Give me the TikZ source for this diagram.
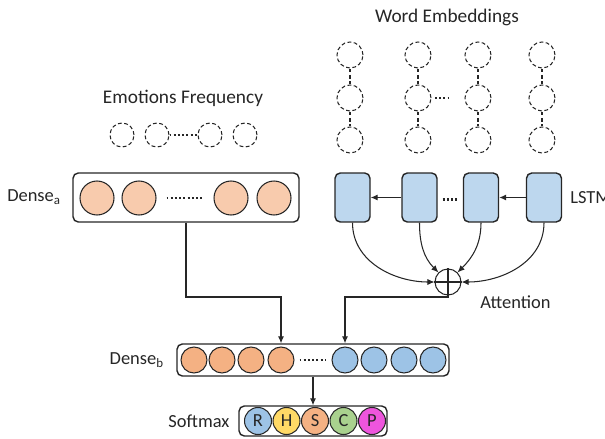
\documentclass[tikz,border=0pt]{standalone}
\usepackage{fontspec}
\setmainfont{Carlito}
\usetikzlibrary{arrows.meta,positioning}
\definecolor{peachlight}{HTML}{F8CBAD}
\definecolor{peach}{HTML}{F4B183}
\definecolor{skyblue}{HTML}{9DC3E6}
\definecolor{lstmblue}{HTML}{BDD7EE}
\definecolor{softyellow}{HTML}{FFD966}
\definecolor{softgreen}{HTML}{A9D18E}
\definecolor{softpink}{HTML}{EE55DD}
\definecolor{inkgray}{HTML}{262626}

\begin{document}
\begin{tikzpicture}[x=0.02cm,y=-0.02cm,line width=0.6pt,
  font=\fontsize{10.5}{12}\selectfont,color=inkgray,
  ghost/.style={circle,draw,dash pattern={on 2.2pt off 1.4pt},minimum size=0.52cm,inner sep=0pt},
  ghostlink/.style={dash pattern={on 2.2pt off 1.4pt}},
  neuron/.style={circle,draw,minimum size=#1,inner sep=0pt},
  layerbox/.style={draw,rounded corners=3pt,line width=0.8pt,inner sep=0pt},
  cell/.style={draw,fill=lstmblue,rounded corners=3pt,line width=0.8pt,minimum width=0.7cm,minimum height=0.98cm,inner sep=0pt},
  dotsline/.style={line width=1.2pt,dash pattern={on 1.1pt off 1.3pt}},
  arr/.style={-{Latex[length=4pt,width=3.5pt]}},
  title/.style={font=\fontsize{11}{13}\selectfont}]
  \useasboundingbox (0,0) rectangle (605,439);

  % word embeddings
  \node[title] (wtitle) at (447,17) {Word Embeddings};
  \node[ghost] (w11) at (350,55) {};
  \node[ghost] (w12) at (350,98) {};
  \node[ghost] (w13) at (350,140) {};
  \node[ghost] (w21) at (418,55) {};
  \node[ghost] (w22) at (418,98) {};
  \node[ghost] (w23) at (418,140) {};
  \node[ghost] (w31) at (478,55) {};
  \node[ghost] (w32) at (478,98) {};
  \node[ghost] (w33) at (478,140) {};
  \node[ghost] (w41) at (542,55) {};
  \node[ghost] (w42) at (542,98) {};
  \node[ghost] (w43) at (542,140) {};
  \draw[ghostlink] (w11) -- (w12) -- (w13);
  \draw[ghostlink] (w21) -- (w22) -- (w23);
  \draw[ghostlink] (w31) -- (w32) -- (w33);
  \draw[ghostlink] (w41) -- (w42) -- (w43);
  \draw[dotsline,shorten <=2pt,shorten >=9pt] (w22) -- (w32);

  % emotions frequency
  \node[title] (etitle) at (183,98) {Emotions Frequency};
  \node[ghost,minimum size=0.48cm] (e1) at (122,135) {};
  \node[ghost,minimum size=0.48cm] (e2) at (157,135) {};
  \node[ghost,minimum size=0.48cm] (e3) at (210,135) {};
  \node[ghost,minimum size=0.48cm] (e4) at (245,135) {};
  \draw[dotsline] (e2) -- (e3);

  % dense a
  \node[layerbox,minimum width=4.52cm,minimum height=0.98cm] (densea) at (186,197.5) {};
  \node[left=0.1cm of densea] (dalabel) {Dense\textsubscript{a}};
  \node[neuron=0.68cm,fill=peachlight] (a1) at (97,198) {};
  \node[neuron=0.68cm,fill=peachlight] (a2) at (139,198) {};
  \node[neuron=0.68cm,fill=peachlight] (a3) at (231,198) {};
  \node[neuron=0.68cm,fill=peachlight] (a4) at (274,198) {};
  \draw[dotsline,shorten <=0.2cm,shorten >=0.2cm] (a2) -- (a3);

  % lstm
  \node[cell] (l1) at (352.5,197.5) {};
  \node[cell] (l2) at (419.5,197.5) {};
  \node[cell] (l3) at (481,197.5) {};
  \node[cell] (l4) at (544,197.5) {};
  \node[anchor=west] (llabel) at (564,198) {LSTM};
  \draw[arr] (l2) -- (l1);
  \draw[arr] (l4) -- (l3);
  \draw[dotsline,shorten <=0.1cm,shorten >=0.1cm] ([yshift=-0.04cm]l2.east) -- ([yshift=-0.04cm]l3.west);

  % attention
  \node[circle,draw,minimum size=0.52cm,inner sep=0pt] (att) at (448,282) {};
  \draw (att.north) -- (att.south) (att.west) -- (att.east);
  \node[anchor=west] (attlabel) at (474,302) {Attention};
  \draw[arr] (l1.south) to[out=-90,in=180] (att.west);
  \draw[arr] (l2.south) to[out=-90,in=135] (att.north west);
  \draw[arr] (l3.south) to[out=-90,in=45] (att.north east);
  \draw[arr] (l4.south) to[out=-90,in=0] (att.east);

  % dense b
  \node[layerbox,minimum width=5.44cm,minimum height=0.64cm] (denseb) at (313,360) {};
  \node[left=0.12cm of denseb] (dblabel) {Dense\textsubscript{b}};
  \node[neuron=0.52cm,fill=peach] (ob1) at (194,360) {};
  \node[neuron=0.52cm,fill=peach] (ob2) at (222,360) {};
  \node[neuron=0.52cm,fill=peach] (ob3) at (251,360) {};
  \node[neuron=0.52cm,fill=peach] (ob4) at (281,360) {};
  \node[neuron=0.52cm,fill=skyblue] (bb1) at (345,360) {};
  \node[neuron=0.52cm,fill=skyblue] (bb2) at (374,360) {};
  \node[neuron=0.52cm,fill=skyblue] (bb3) at (404,360) {};
  \node[neuron=0.52cm,fill=skyblue] (bb4) at (433,360) {};
  \draw[dotsline,shorten <=0.1cm,shorten >=0.1cm] (ob4) -- (bb1);

  \coordinate (joint) at (0,297);
  \draw[arr] (densea.south) |- (joint -| ob4) -- (ob4 |- denseb.north);
  \draw[arr] (att.south) |- (joint -| bb1) -- (bb1 |- denseb.north);

  % softmax
  \node[layerbox,minimum width=2.96cm,minimum height=0.6cm] (softmax) at (313,421) {};
  \node[left=0.05cm of softmax] (smlabel) {Softmax};
  \node[neuron=0.54cm,fill=skyblue] (cr) at (258,421) {R};
  \node[neuron=0.54cm,fill=softyellow] (ch) at (286.5,421) {H};
  \node[neuron=0.54cm,fill=peach] (cs) at (315,421) {S};
  \node[neuron=0.54cm,fill=softgreen] (cc) at (343.5,421) {C};
  \node[neuron=0.54cm,fill=softpink] (cp) at (372,421) {P};
  \draw[arr] (denseb.south) -- (softmax.north);
\end{tikzpicture}
\end{document}
